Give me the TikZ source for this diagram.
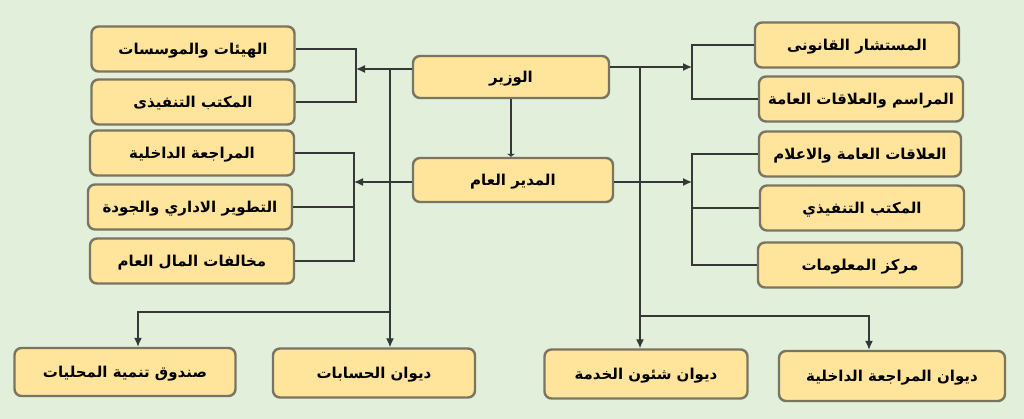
\documentclass[tikz,border=0pt]{standalone}
\usepackage{fontspec}
\usetikzlibrary{arrows.meta}
\TeXXeTstate=1
\newfontfamily\arabicfont[Script=Arabic]{DejaVu Sans}
\newcommand{\artext}[1]{\arabicfont\bfseries\beginR #1\endR}
\definecolor{bgcol}{RGB}{226,239,218}
\definecolor{boxfill}{RGB}{255,229,155}
\definecolor{boxline}{RGB}{122,116,98}
\definecolor{linecol}{RGB}{55,55,55}

\begin{document}
\begin{tikzpicture}[x=1pt,y=-1pt,
    box/.style={draw=boxline, line width=2.4pt, fill=boxfill, rounded corners=7pt,
                minimum height=45pt, inner sep=2pt, text height=13pt, text depth=2pt,
                font=\fontsize{15}{18}\selectfont},
    link/.style={draw=linecol, line width=1.3pt},
    arr/.style={link, -{Latex[length=9pt,width=8pt]}}]
        % Background
        \fill[bgcol] (0,0) rectangle (1024,419);
        \useasboundingbox (0,0) rectangle (1024,419);

        % Top of the chart
        \node[box, minimum width=196pt, minimum height=42pt] (wazir) at (511,77) {\artext{الوزير}};
        \node[box, minimum width=200pt, minimum height=44pt] (mudir) at (513,180) {\artext{المدير العام}};

        % Left column
        \node[box, minimum width=203pt] (L1) at (193,49) {\artext{الهيئات والموسسات}};
        \node[box, minimum width=203pt] (L2) at (193,102) {\artext{المكتب التنفيذى}};
        \node[box, minimum width=204pt] (L3) at (192,153) {\artext{المراجعة الداخلية}};
        \node[box, minimum width=204pt] (L4) at (190,207) {\artext{التطوير الاداري والجودة}};
        \node[box, minimum width=204pt] (L5) at (192,261) {\artext{مخالفات المال العام}};

        % Right column
        \node[box, minimum width=204pt] (R1) at (857,45) {\artext{المستشار القانونى}};
        \node[box, minimum width=204pt] (R2) at (861,99) {\artext{المراسم والعلاقات العامة}};
        \node[box, minimum width=202pt] (R3) at (860,154) {\artext{العلاقات العامة والاعلام}};
        \node[box, minimum width=204pt] (R4) at (862,208) {\artext{المكتب التنفيذي}};
        \node[box, minimum width=204pt] (R5) at (860,265) {\artext{مركز المعلومات}};

        % Bottom row
        \node[box, minimum width=221pt, minimum height=48pt] (B1) at (125,372) {\artext{صندوق تنمية المحليات}};
        \node[box, minimum width=202pt, minimum height=49pt] (B2) at (374,373) {\artext{ديوان الحسابات}};
        \node[box, minimum width=203pt, minimum height=49pt] (B3) at (646,374) {\artext{ديوان شئون الخدمة}};
        \node[box, minimum width=226pt, minimum height=50pt] (B4) at (892,376) {\artext{ديوان المراجعة الداخلية}};

        % Joints of the connectors
        \coordinate (jl1) at (356,69);
        \coordinate (jl2) at (354,182);
        \coordinate (jr1) at (692,67);
        \coordinate (jr2) at (692,182);
        \coordinate (vl) at (390,69);
        \coordinate (vr) at (640,67);
        \coordinate (jb1) at (390,312);
        \coordinate (jb1b) at (138,312);
        \coordinate (jb2) at (640,316);
        \coordinate (jb3) at (869,316);

        % Minister to director
        \draw[link, -{Latex[length=3pt,width=9pt]}] (wazir.south) -- (wazir.south |- mudir.north);

        % Left brackets
        \draw[link] (L1.east) -| (jl1) |- (L2.east);
        \draw[arr] (wazir.west |- jl1) -- (jl1);
        \draw[link] (L3.east) -| (jl2) |- (L5.east);
        \draw[link] (L4.east) -- (L4.east -| jl2);
        \draw[arr] (mudir.west |- jl2) -- (jl2);

        % Right brackets
        \draw[link] (R1.west) -| (jr1) |- (R2.west);
        \draw[arr] (wazir.east |- jr1) -- (jr1);
        \draw[link] (R3.west) -| (jr2) |- (R5.west);
        \draw[link] (R4.west) -- (R4.west -| jr2);
        \draw[arr] (mudir.east |- jr2) -- (jr2);

        % Down to the bottom row
        \draw[arr] (vl) -- (vl |- B2.north);
        \draw[arr] (jb1) -- (jb1b) -- (jb1b |- B1.north);
        \draw[arr] (vr) -- (vr |- B3.north);
        \draw[arr] (jb2) -- (jb3) -- (jb3 |- B4.north);
    \end{tikzpicture}
\end{document}
